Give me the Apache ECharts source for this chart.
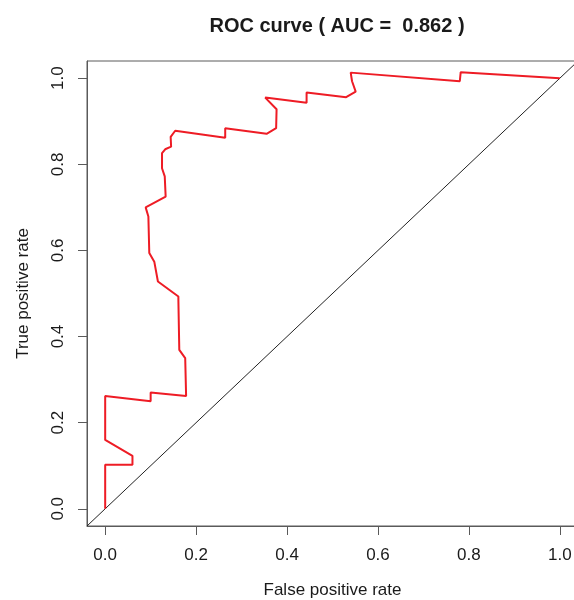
<!DOCTYPE html>
<html>
<head>
<meta charset="utf-8">
<script src="https://cdn.jsdelivr.net/npm/echarts@6/dist/echarts.min.js"></script>
<style>
html,body{margin:0;padding:0;background:#fff;}
#chart{width:574px;height:600px;}
</style>
</head>
<body>
<div id="chart"></div>
<script>
// ROC curve points (false positive rate, true positive rate)
var fpr = [0.000, 0.000, 0.060, 0.060, 0.000, 0.000, 0.100, 0.100, 0.178, 0.176, 0.163, 0.161, 0.161, 0.116, 0.108, 0.097, 0.095, 0.089, 0.133, 0.131, 0.125, 0.125, 0.132, 0.145, 0.144, 0.154, 0.264, 0.264, 0.355, 0.376, 0.377, 0.352, 0.443, 0.443, 0.530, 0.551, 0.543, 0.540, 0.780, 0.782, 1.000];
var tpr = [0.000, 0.102, 0.102, 0.123, 0.160, 0.262, 0.250, 0.270, 0.262, 0.350, 0.369, 0.485, 0.493, 0.528, 0.574, 0.594, 0.679, 0.700, 0.725, 0.772, 0.791, 0.826, 0.835, 0.841, 0.864, 0.878, 0.862, 0.884, 0.871, 0.884, 0.928, 0.955, 0.943, 0.967, 0.956, 0.969, 0.993, 1.013, 0.993, 1.014, 1.000];
// Reference diagonal (abline 0,1) across the full plotting region
var diagX = [-0.04, 1.04];
var diagY = [-0.04, 1.04];
// Tick values and labels
var xTicks = [0, 0.2, 0.4, 0.6, 0.8, 1.0];
var yTicks = [0, 0.2, 0.4, 0.6, 0.8, 1.0];
var auc = "0.862";
var titleText = "ROC curve ( AUC =  " + auc + " )";
var xTitle = "False positive rate";
var yTitle = "True positive rate";

var FONT = "'Liberation Sans', Arial, Helvetica, sans-serif";
var TXT = '#1a1a1a';
var AX = '#5a5a5a';

function pairs(xs, ys) {
  var out = [];
  for (var i = 0; i < xs.length; i++) out.push([xs[i], ys[i]]);
  return out;
}

var chart = echarts.init(document.getElementById('chart'), null, {renderer: 'canvas'});
chart.setOption({
  animation: false,
  backgroundColor: '#ffffff',
  title: {
    text: titleText,
    left: 332,
    textAlign: 'center',
    top: 11,
    textStyle: {fontFamily: FONT, fontSize: 20, fontWeight: 'bold', color: TXT}
  },
  grid: {
    left: 87, top: 61, width: 491, height: 465,
    outerBoundsMode: 'none',
    show: true, borderColor: AX, borderWidth: 1, backgroundColor: 'transparent',
    containLabel: false
  },
  xAxis: {
    type: 'value',
    min: -0.04, max: 1.04,
    name: xTitle,
    nameLocation: 'middle',
    nameGap: 56,
    nameTextStyle: {fontFamily: FONT, fontSize: 17, color: TXT},
    axisLine: {show: true, onZero: false, lineStyle: {color: AX, width: 1}},
    axisTick: {show: true, length: 9, customValues: xTicks, lineStyle: {color: AX, width: 1}},
    axisLabel: {
      customValues: xTicks, margin: 21,
      fontFamily: FONT, fontSize: 17, color: TXT,
      formatter: function (v) { return v.toFixed(1); }
    },
    splitLine: {show: false}
  },
  yAxis: {
    type: 'value',
    min: -0.04, max: 1.04,
    name: yTitle,
    nameLocation: 'middle',
    nameGap: 55,
    nameTextStyle: {fontFamily: FONT, fontSize: 17, color: TXT},
    axisLine: {show: true, onZero: false, lineStyle: {color: AX, width: 1}},
    axisTick: {show: true, length: 9, customValues: yTicks, lineStyle: {color: AX, width: 1}},
    axisLabel: {
      customValues: yTicks, margin: 20, rotate: 90,
      fontFamily: FONT, fontSize: 17, color: TXT,
      formatter: function (v) { return v.toFixed(1); }
    },
    splitLine: {show: false}
  },
  series: [
    {
      type: 'line',
      data: pairs(diagX, diagY),
      showSymbol: false,
      symbol: 'none',
      lineStyle: {color: '#222222', width: 1},
      silent: true,
      z: 2
    },
    {
      type: 'line',
      data: pairs(fpr, tpr),
      showSymbol: false,
      symbol: 'none',
      lineStyle: {color: '#ee1c25', width: 2},
      silent: true,
      z: 3
    }
  ]
});
</script>
</body>
</html>
